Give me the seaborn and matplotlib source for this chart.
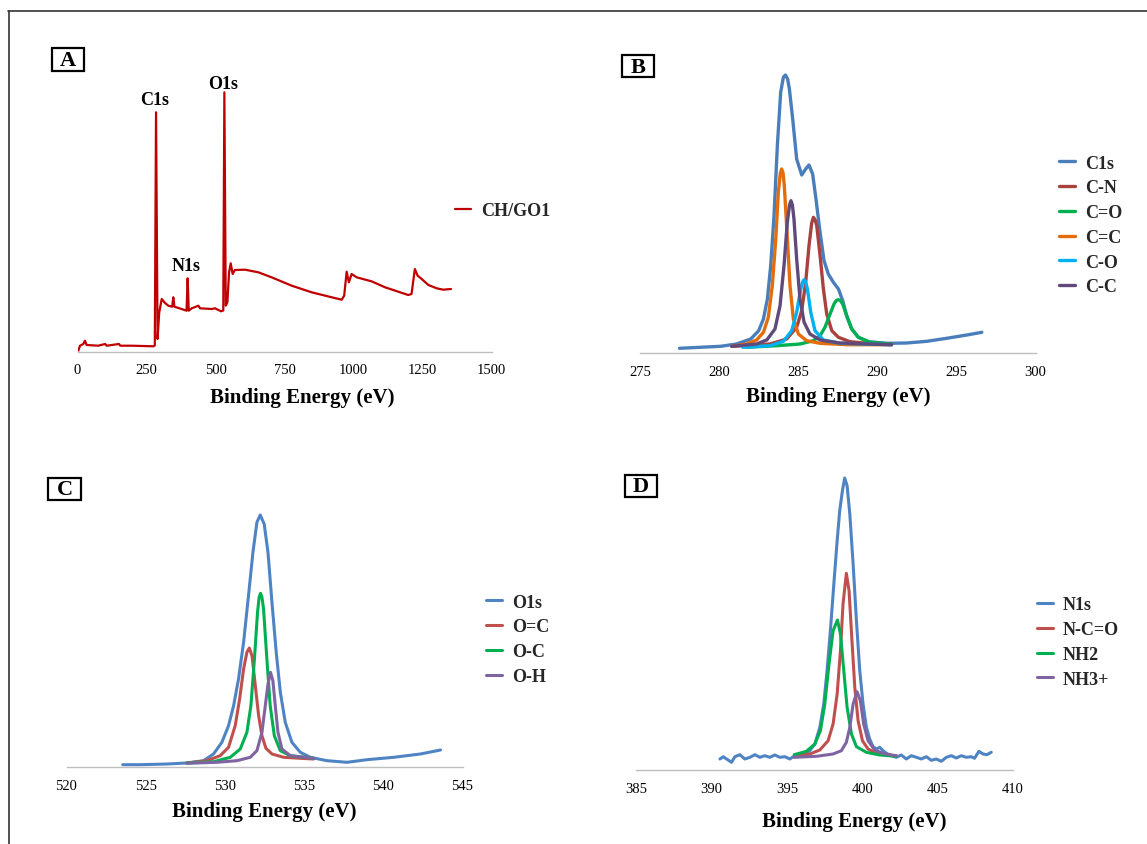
import matplotlib
matplotlib.use("Agg")
import matplotlib.pyplot as plt
from matplotlib.lines import Line2D
from matplotlib.patches import Rectangle
import seaborn as sns

# ---------------- (A) survey spectrum ----------------
survey_energy = [3, 9, 21, 27, 33, 75, 100, 106, 150, 155, 196, 275, 280, 284.5, 290, 296,
                 305, 317, 329, 343, 347, 351, 377, 395, 399, 403, 414, 438, 444, 486, 498,
                 520, 528, 532, 537, 543, 549, 555, 562, 570, 607, 655, 703, 776, 848, 921,
                 957, 966, 975, 983, 993, 1011, 1065, 1114, 1198, 1210, 1222, 1232, 1244,
                 1271, 1301, 1325, 1353]
survey_counts = [0.8, 5.8, 7.5, 10.8, 6.5, 5.8, 7.5, 5.8, 7.5, 5.8, 5.8, 5.2, 6, 239.2, 12.5, 39,
                 52.5, 48.5, 45.8, 44.8, 54.2, 44.8, 42.5, 40.8, 73.2, 40.8, 43.2, 45.8, 43.2, 42.5, 43.2,
                 40.2, 41, 259.2, 45.8, 49.2, 79.2, 88.2, 77.5, 81.5, 81.8, 79.2, 74.2, 65.8, 59.2, 54.2,
                 51.8, 55.8, 79.8, 69.2, 77.5, 74.2, 70.2, 64.2, 56.5, 57.5, 82.5, 75.8, 73.2,
                 66.5, 63.2, 61.8, 62.5]
survey_peaks = ["C1s", "N1s", "O1s"]
survey_peak_energy = [284.5, 399, 532]
survey_peak_counts = [239.2, 73.2, 259.2]

# ---------------- (B) C1s high resolution ----------------
c1s_energy = [277.5, 278.8, 280.1, 281.1, 282.0, 282.5, 282.8, 283.05, 283.26, 283.47, 283.68,
              283.89, 284.06, 284.19, 284.33, 284.44, 284.65, 284.9, 285.22, 285.47, 285.68,
              285.91, 286.12, 286.38, 286.63, 286.9, 287.22, 287.54, 287.81, 288.06, 288.38,
              288.8, 289.43, 290.6, 291.85, 293.12, 294.38, 295.65, 296.6]
c1s_total = [4.7, 5.7, 6.7, 9, 14, 22.3, 34, 54, 87.3, 137.3, 207.3,
             260.7, 275.7, 278, 274, 264, 234, 194, 178, 184, 188,
             179, 154, 120.7, 92.3, 79, 70.7, 64, 52.3, 37.3, 24,
             15.7, 11.3, 9.7, 10, 11.7, 14.7, 18, 20.7]

cn_energy = [280.8, 283.22, 284.27, 284.9, 285.22, 285.47, 285.68, 285.85, 285.96, 286.07,
             286.17, 286.38, 286.59, 286.8, 287.12, 287.54, 288.27, 289.33, 290.9]
cn_counts = [6.7, 9, 14, 25.7, 42.3, 70.7, 107.3, 130, 135.7, 133,
             127.3, 97.3, 64, 39, 22.3, 15.7, 11.3, 9.7, 9]

cdo_energy = [281.7, 283.64, 285.11, 285.96, 286.38, 286.69, 287.01, 287.28, 287.41, 287.54,
              287.67, 287.81, 288.06, 288.38, 288.8, 289.54, 290.9]
cdo_counts = [5.7, 7.3, 9, 12.3, 17.3, 25.7, 39, 49.7, 52.5, 53.3,
              52.3, 49, 37.3, 24, 15.7, 10.7, 9]

cdc_energy = [280.8, 281.74, 282.37, 282.8, 283.11, 283.36, 283.58, 283.74, 283.87, 283.95,
              284.04, 284.12, 284.29, 284.48, 284.69, 285.01, 285.53, 286.38, 288.06, 290.9]
cdc_counts = [6.7, 9, 13, 20.7, 35.7, 67.3, 114, 160.7, 180, 184,
              180, 167.3, 120.7, 67.3, 34, 19, 12.3, 9.7, 8.3, 8.3]

co_energy = [281.5, 283.22, 284.06, 284.59, 284.9, 285.16, 285.28, 285.37, 285.47, 285.58,
             285.79, 286.06, 286.59, 287.64, 290.9]
co_counts = [5.7, 7.3, 11.7, 22.3, 40.7, 64, 71, 73.3, 71, 64,
             40.7, 22.3, 13, 9.7, 8.3]

cc_energy = [280.8, 282.37, 283.01, 283.53, 283.85, 284.1, 284.31, 284.45, 284.54, 284.63,
             284.73, 284.9, 285.11, 285.37, 285.74, 286.38, 287.64, 290.9]
cc_counts = [6.7, 9, 13, 24, 47.3, 87.3, 130.7, 148, 152.3, 148,
             134, 94, 54, 30.7, 19, 13, 10, 8.3]

# ---------------- (C) O1s high resolution ----------------
o1s_energy = [523.55, 524.65, 526.33, 527.6, 528.65, 529.28, 529.81, 530.23, 530.55, 530.86,
              531.18, 531.49, 531.77, 532.02, 532.23, 532.48, 532.72, 532.97, 533.24, 533.5,
              533.81, 534.23, 534.76, 535.39, 536.45, 537.71, 538.97, 540.66, 542.34, 543.61]
o1s_total = [2.6, 2.6, 3.3, 4.3, 6.6, 13.3, 25, 41.6, 61.6, 88.3,
             125, 171.6, 215, 245, 252.3, 243.3, 215, 165, 115, 75,
             45, 25, 15, 10, 6.6, 5, 7.6, 10, 13.3, 17.3]

odc_energy = [527.6, 528.86, 529.7, 530.23, 530.65, 530.93, 531.18, 531.39, 531.54, 531.71,
              531.92, 532.13, 532.34, 532.59, 532.97, 533.71, 534.76, 535.6]
odc_counts = [4.3, 6.6, 11.6, 20, 41.6, 68.3, 98.3, 115, 119.3, 111.6,
              81.6, 51.6, 31.6, 19, 13.3, 10, 9, 8.3]

oc_energy = [527.6, 529.28, 530.34, 530.97, 531.39, 531.64, 531.85, 532.06, 532.16, 532.25,
             532.34, 532.44, 532.65, 532.86, 533.12, 533.5, 534.13, 535.6]
oc_counts = [4.3, 5.6, 10, 18.3, 35, 61.6, 105, 155, 170, 174,
             170, 158.3, 108.3, 61.6, 31.6, 16.6, 11.6, 9]

oh_energy = [527.6, 529.49, 530.76, 531.6, 532.02, 532.34, 532.55, 532.72, 532.88, 533.03,
             533.18, 533.35, 533.6, 534.13, 535.6]
oh_counts = [4, 5, 6.6, 10, 16.6, 35, 61.6, 83.3, 95, 86.6,
             61.6, 35, 18.3, 11.6, 9]

# ---------------- (D) N1s high resolution ----------------
n1s_energy = [390.56, 390.78, 391.0, 391.33, 391.55, 391.88, 392.21, 392.55, 392.88, 393.21,
              393.54, 393.87, 394.2, 394.53, 394.87, 395.2, 395.53, 395.86, 396.19, 396.52,
              396.86, 397.19, 397.45, 397.67, 397.89, 398.12, 398.34, 398.51, 398.69, 398.84,
              399.0, 399.18, 399.4, 399.62, 399.84, 400.06, 400.28, 400.5, 400.72, 400.94,
              401.17, 401.39, 401.61, 401.94, 402.27, 402.6, 402.93, 403.26, 403.6, 403.93,
              404.26, 404.59, 404.92, 405.25, 405.59, 405.92, 406.25, 406.58, 406.91, 407.24,
              407.46, 407.75, 408.02, 408.28, 408.57]
n1s_total = [11, 13.3, 11, 7.7, 13.3, 15.3, 11, 12.7, 15.3, 12.7,
             14.3, 12.7, 15, 12.7, 13.3, 11, 14.3, 15.3, 16.7, 19.3,
             26, 42.7, 66, 99.3, 139.3, 186, 229.3, 259.3, 279.3, 292,
             284.3, 256, 206, 149.3, 99.3, 66, 42.7, 31, 23.3, 21,
             22.7, 19.3, 16.7, 14.3, 12.7, 15, 11, 14.3, 12.7, 11,
             13.3, 9.7, 11, 8.7, 12.7, 14.3, 12, 14.3, 12.7, 13.3,
             11.7, 18.7, 16, 15.3, 17.7]

ncdo_energy = [395.49, 396.52, 397.19, 397.74, 398.07, 398.34, 398.56, 398.73, 398.95, 399.13,
               399.31, 399.51, 399.73, 400.02, 400.39, 400.94, 401.61, 402.27]
ncdo_counts = [13.3, 16, 20, 29.3, 46, 76, 119.3, 166, 196.7, 179.3,
               132.7, 82.7, 49.3, 29.3, 21, 16.7, 15, 14.3]

nh2_energy = [395.49, 396.3, 396.86, 397.23, 397.52, 397.8, 398.07, 398.36, 398.56, 398.78,
              399.0, 399.29, 399.62, 400.28, 401.17, 402.27]
nh2_counts = [15.3, 18.7, 26, 39.3, 66, 106, 139.3, 150, 136, 99.3,
              62.7, 36, 23.3, 17.7, 15, 13.7]

nh3_energy = [395.49, 396.97, 398.07, 398.62, 398.95, 399.18, 399.4, 399.66, 399.88, 400.1,
              400.39, 400.83, 401.5, 402.27]
nh3_counts = [12.7, 13.7, 16, 19.3, 27.7, 42.7, 66, 78.3, 69.3, 46,
              29.3, 20, 16, 14.3]

# ---------------- drawing ----------------
sns.set_theme(style="white")
plt.rcParams["font.family"] = ["Liberation Serif", "DejaVu Serif"]

W, H = 1147, 845
fig = plt.figure(figsize=(W / 100, H / 100), dpi=100)
fig.patch.set_facecolor("white")


def make_axes(box, xlim, xticks, ymax):
    left, right, bottom, top = box
    ax = fig.add_axes([left / W, 1 - bottom / H, (right - left) / W, (bottom - top) / H])
    ax.set_facecolor("white")
    ax.set_xlim(*xlim)
    ax.set_ylim(0, ymax)
    ax.set_xticks(xticks)
    ax.set_xticklabels([str(t) for t in xticks])
    ax.set_yticks([])
    for side in ("top", "right", "left"):
        ax.spines[side].set_visible(False)
    ax.spines["bottom"].set_color("#BFBFBF")
    ax.spines["bottom"].set_linewidth(1.0)
    ax.tick_params(axis="x", length=0, pad=8.5, labelsize=10.5, colors="black")
    return ax


def to_axes(box, px, py):
    left, right, bottom, top = box
    return (px - left) / (right - left), (bottom - py) / (bottom - top)


def labels(ax, box, xl, yl):
    ax.set_xlabel("Binding Energy (eV)", fontsize=15, fontweight="bold", color="black")
    ax.set_ylabel("Intensity (a.u.)", fontsize=15, fontweight="bold", color="black")
    ax.xaxis.set_label_coords(*to_axes(box, *xl))
    ax.yaxis.set_label_coords(*to_axes(box, *yl))
    ax.xaxis.label.set_va("center")
    ax.yaxis.label.set_va("center")


def panel_tag(letter, x0, y0, x1, y1):
    fig.add_artist(Rectangle((x0 / W, 1 - y1 / H), (x1 - x0) / W, (y1 - y0) / H,
                             transform=fig.transFigure, fill=False, lw=1.6, ec="black"))
    fig.text((x0 + x1) / 2 / W, 1 - ((y0 + y1) / 2 + 0.5) / H, letter, ha="center", va="center",
             fontsize=16, fontweight="bold", color="black")


def legend(ax, x, y):
    handles, names = ax.get_legend_handles_labels()
    ax.legend(handles, names, loc="center left", bbox_to_anchor=(x / W, 1 - y / H),
              bbox_transform=fig.transFigure, frameon=False,
              prop={"weight": "bold", "size": 13}, handlelength=0.9, handletextpad=0.55,
              labelspacing=0.43, borderpad=0, borderaxespad=0)


def draw(ax, xs, ys, color, name, lw):
    sns.lineplot(x=xs, y=ys, color=color, linewidth=lw, label=name, ax=ax,
                 estimator=None, sort=False)


# Panel A
boxA = (77.5, 491.6, 352.5, 40)
axA = make_axes(boxA, (0, 1500), [0, 250, 500, 750, 1000, 1250, 1500], 312.5)
draw(axA, survey_energy, survey_counts, "#C00000", "CH/GO1", 1.6)
for name, e, c, dy in zip(survey_peaks, survey_peak_energy, survey_peak_counts, [9, 9, 6]):
    axA.annotate(name, (e, c), xytext=(-1, dy), textcoords="offset points",
                 ha="center", va="center", fontsize=13, fontweight="bold", color="black")
labels(axA, boxA, (302.5, 398), (58, 210))
legend(axA, 455, 212)
panel_tag("A", 52, 49, 84, 72)

# Panel B
boxB = (640, 1035.6, 354, 40)
axB = make_axes(boxB, (275, 300), [275, 280, 285, 290, 295, 300], 314)
draw(axB, c1s_energy, c1s_total, "#4A7EBB", "C1s", 2.4)
draw(axB, cn_energy, cn_counts, "#A8423F", "C-N", 2.4)
draw(axB, cdo_energy, cdo_counts, "#00B050", "C=O", 2.4)
draw(axB, cdc_energy, cdc_counts, "#E46C0A", "C=C", 2.4)
draw(axB, co_energy, co_counts, "#00B0F0", "C-O", 2.4)
draw(axB, cc_energy, cc_counts, "#604A7B", "C-C", 2.4)
labels(axB, boxB, (838, 396.7), (627, 199))
legend(axB, 1058.5, 226)
panel_tag("B", 621.5, 56, 654, 78.3)

# Panel C
boxC = (66.5, 462.5, 768.3, 460)
axC = make_axes(boxC, (520, 545), [520, 525, 530, 535, 540, 545], 308.3)
draw(axC, o1s_energy, o1s_total, "#4F84C4", "O1s", 2.2)
draw(axC, odc_energy, odc_counts, "#C0504D", "O=C", 2.2)
draw(axC, oc_energy, oc_counts, "#00B050", "O-C", 2.2)
draw(axC, oh_energy, oh_counts, "#8064A2", "O-H", 2.2)
labels(axC, boxC, (264.7, 811.7), (54.5, 613.3))
legend(axC, 485.5, 640.2)
panel_tag("C", 48.4, 479, 80.7, 501)

# Panel D
boxD = (636.2, 1012.8, 771, 460)
axD = make_axes(boxD, (385, 410), [385, 390, 395, 400, 405, 410], 311)
draw(axD, n1s_energy, n1s_total, "#4F84C4", "N1s", 2.2)
draw(axD, ncdo_energy, ncdo_counts, "#C0504D", "N-C=O", 2.2)
draw(axD, nh2_energy, nh2_counts, "#00B050", "NH2", 2.2)
draw(axD, nh3_energy, nh3_counts, "#8064A2", "NH3+", 2.2)
labels(axD, boxD, (854, 821.7), (625.2, 615.8))
legend(axD, 1036.7, 643)
panel_tag("D", 625.2, 476, 656.9, 498)

# outer frame edges
fig.add_artist(Line2D([8 / W, 1.0], [1 - 12 / H, 1 - 12 / H], transform=fig.transFigure,
                      color="#333333", lw=1.2))
fig.add_artist(Line2D([9 / W, 9 / W], [0.0, 1 - 12 / H], transform=fig.transFigure,
                      color="#333333", lw=1.2))

fig.savefig("out.png", dpi=100, facecolor="white")
